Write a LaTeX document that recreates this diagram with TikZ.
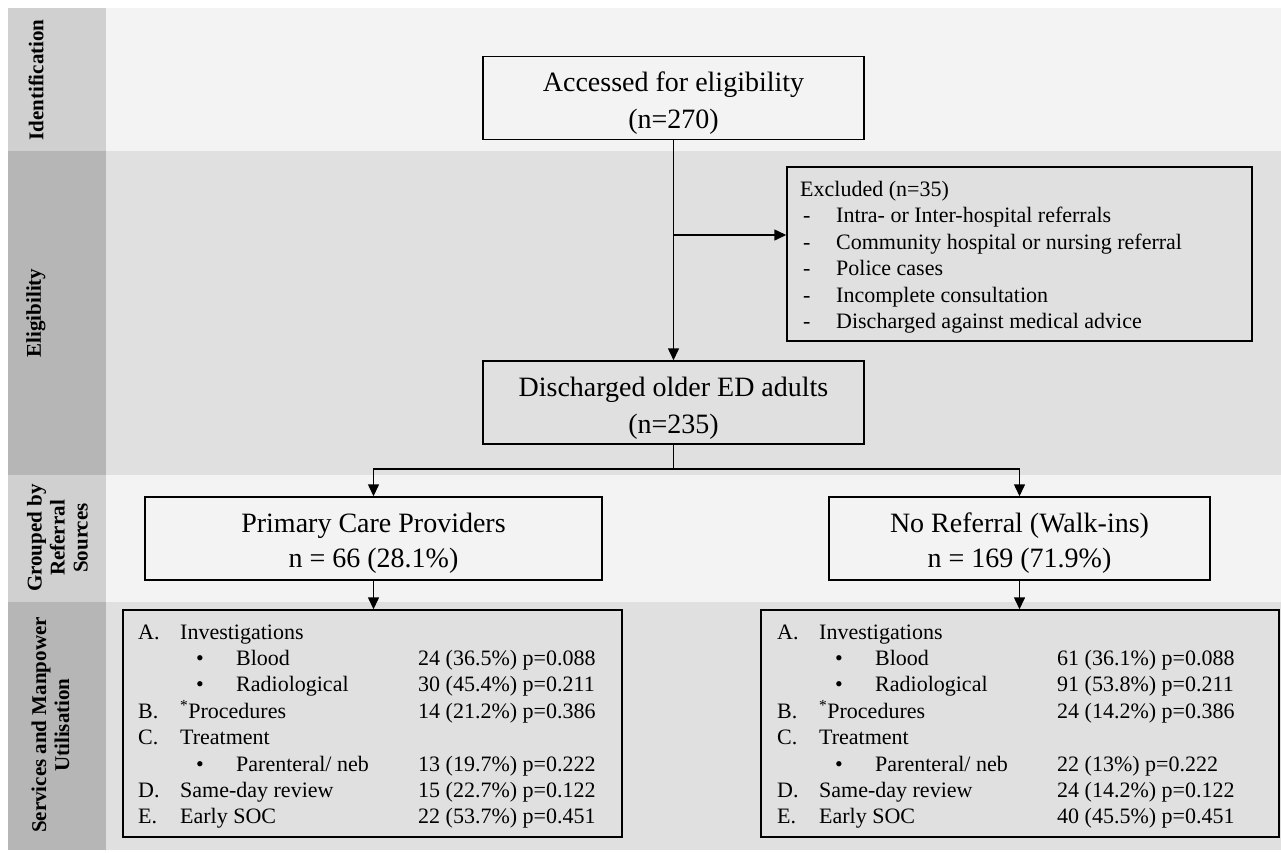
\documentclass[tikz,border=0pt]{standalone}
\usepackage{fontspec}
\setmainfont{Liberation Serif}
\usetikzlibrary{arrows.meta}
\definecolor{bandL}{RGB}{243,243,243}
\definecolor{bandD}{RGB}{224,224,224}
\definecolor{labL}{RGB}{208,208,208}
\definecolor{labD}{RGB}{182,182,182}
\newlength\numcol
\newcommand\svcItem[3]{\makebox[\numcol][l]{\makebox[42pt][l]{#1}#2}#3\\}
\newcommand\svcSub[2]{\makebox[\numcol][l]{\hspace*{58pt}\makebox[40pt][l]{•}#1}#2\\}
\newcommand\exItem[1]{\hspace*{3pt}\makebox[33pt][l]{-}#1\\}
\begin{document}
\begin{tikzpicture}[x=1pt,y=-1pt,
  box/.style={draw=black, line width=1.5pt, inner sep=0pt},
  arr/.style={line width=1.5pt, -{Triangle[length=12pt,width=11pt]}},
  lnk/.style={line width=1.5pt},
  bigA/.style={font=\fontsize{28}{37}\selectfont, align=center},
  bigB/.style={font=\fontsize{28}{35}\selectfont, align=center},
  lab/.style={font=\fontsize{21}{23}\selectfont\bfseries, rotate=90, align=center, inner sep=0pt},
  txt/.style={anchor=north west, inner sep=0pt, font=\fontsize{22}{26.4}\selectfont},
  exc/.style={anchor=north west, inner sep=0pt, font=\fontsize{22}{26.5}\selectfont}]
\useasboundingbox (0,0) rectangle (1281,852);
% bands
\fill[bandL] (106,8) rectangle (1281,151);
\fill[labL] (8,8) rectangle (106,151);
\fill[bandD] (106,151) rectangle (1281,475);
\fill[labD] (8,151) rectangle (106,475);
\fill[bandL] (106,475) rectangle (1281,602);
\fill[labL] (8,475) rectangle (106,602);
\fill[bandD] (106,602) rectangle (1281,850);
\fill[labD] (8,602) rectangle (106,850);
% labels
\node[lab] (lid) at (36,80) {Identification};
\node[lab] (lel) at (36,313) {Eligibility};
\node[lab] (lgr) at (57.5,538) {Grouped by\\Referral\\Sources};
\node[lab] (lsv) at (50.5,725) {Services and Manpower\\Utilisation};
% boxes
\node[box, bigA, fill=bandL, minimum width=381pt, minimum height=83pt] (acc) at (673.5,98) {\rule{0pt}{29pt}Accessed for eligibility\\(n=270)};
\node[box, bigA, fill=bandD, minimum width=381pt, minimum height=83pt] (dis) at (673.5,402.5) {\rule{0pt}{31pt}Discharged older ED adults\\(n=235)};
\node[box, fill=bandD, minimum width=465pt, minimum height=174pt] (exc) at (1019.5,254) {};
\node[exc] (exct) at (800,177.5) {\begin{tabular}{@{}l@{}}
Excluded (n=35)\\
\exItem{Intra- or Inter-hospital referrals}
\exItem{Community hospital or nursing referral}
\exItem{Police cases}
\exItem{Incomplete consultation}
\exItem{Discharged against medical advice}
\end{tabular}};
\node[box, bigB, fill=bandL, minimum width=457pt, minimum height=83pt] (pcp) at (373.5,538.5) {\rule{0pt}{29pt}Primary Care Providers\\n = 66 (28.1\%)};
\node[box, bigB, fill=bandL, minimum width=381pt, minimum height=83pt] (nr) at (1019.5,538.5) {\rule{0pt}{29pt}No Referral (Walk-ins)\\n = 169 (71.9\%)};
\node[box, fill=bandD, minimum width=499pt, minimum height=227pt] (pcs) at (372.5,723.5) {};
\node[box, fill=bandD, minimum width=518pt, minimum height=227pt] (nrs) at (1020,723.5) {};
\node[txt] (pcst) at (138,620.5) {\setlength\numcol{280pt}\begin{tabular}{@{}l@{}}
\svcItem{A.}{Investigations}{}
\svcSub{Blood}{24 (36.5\%) p=0.088}
\svcSub{Radiological}{30 (45.4\%) p=0.211}
\svcItem{B.}{\textsuperscript{*}Procedures}{14 (21.2\%) p=0.386}
\svcItem{C.}{Treatment}{}
\svcSub{Parenteral/ neb}{13 (19.7\%) p=0.222}
\svcItem{D.}{Same-day review}{15 (22.7\%) p=0.122}
\svcItem{E.}{Early SOC}{22 (53.7\%) p=0.451}
\end{tabular}};
\node[txt] (nrst) at (777,620.5) {\setlength\numcol{280pt}\begin{tabular}{@{}l@{}}
\svcItem{A.}{Investigations}{}
\svcSub{Blood}{61 (36.1\%) p=0.088}
\svcSub{Radiological}{91 (53.8\%) p=0.211}
\svcItem{B.}{\textsuperscript{*}Procedures}{24 (14.2\%) p=0.386}
\svcItem{C.}{Treatment}{}
\svcSub{Parenteral/ neb}{22 (13\%) p=0.222}
\svcItem{D.}{Same-day review}{24 (14.2\%) p=0.122}
\svcItem{E.}{Early SOC}{40 (45.5\%) p=0.451}
\end{tabular}};
% connectors
\draw[arr] (acc.south) -- (dis.north);
\coordinate (br) at (673.5,235);
\draw[arr] (br) -- (exc.west |- br);
\coordinate (split) at (673.5,469);
\draw[lnk] (dis.south) -- (split);
\draw[arr] (split) -| (pcp.north);
\draw[arr] (split) -| (nr.north);
\draw[arr] (pcp.south) -- (pcp.south |- pcs.north);
\draw[arr] (nr.south) -- (nr.south |- nrs.north);
\end{tikzpicture}
\end{document}
